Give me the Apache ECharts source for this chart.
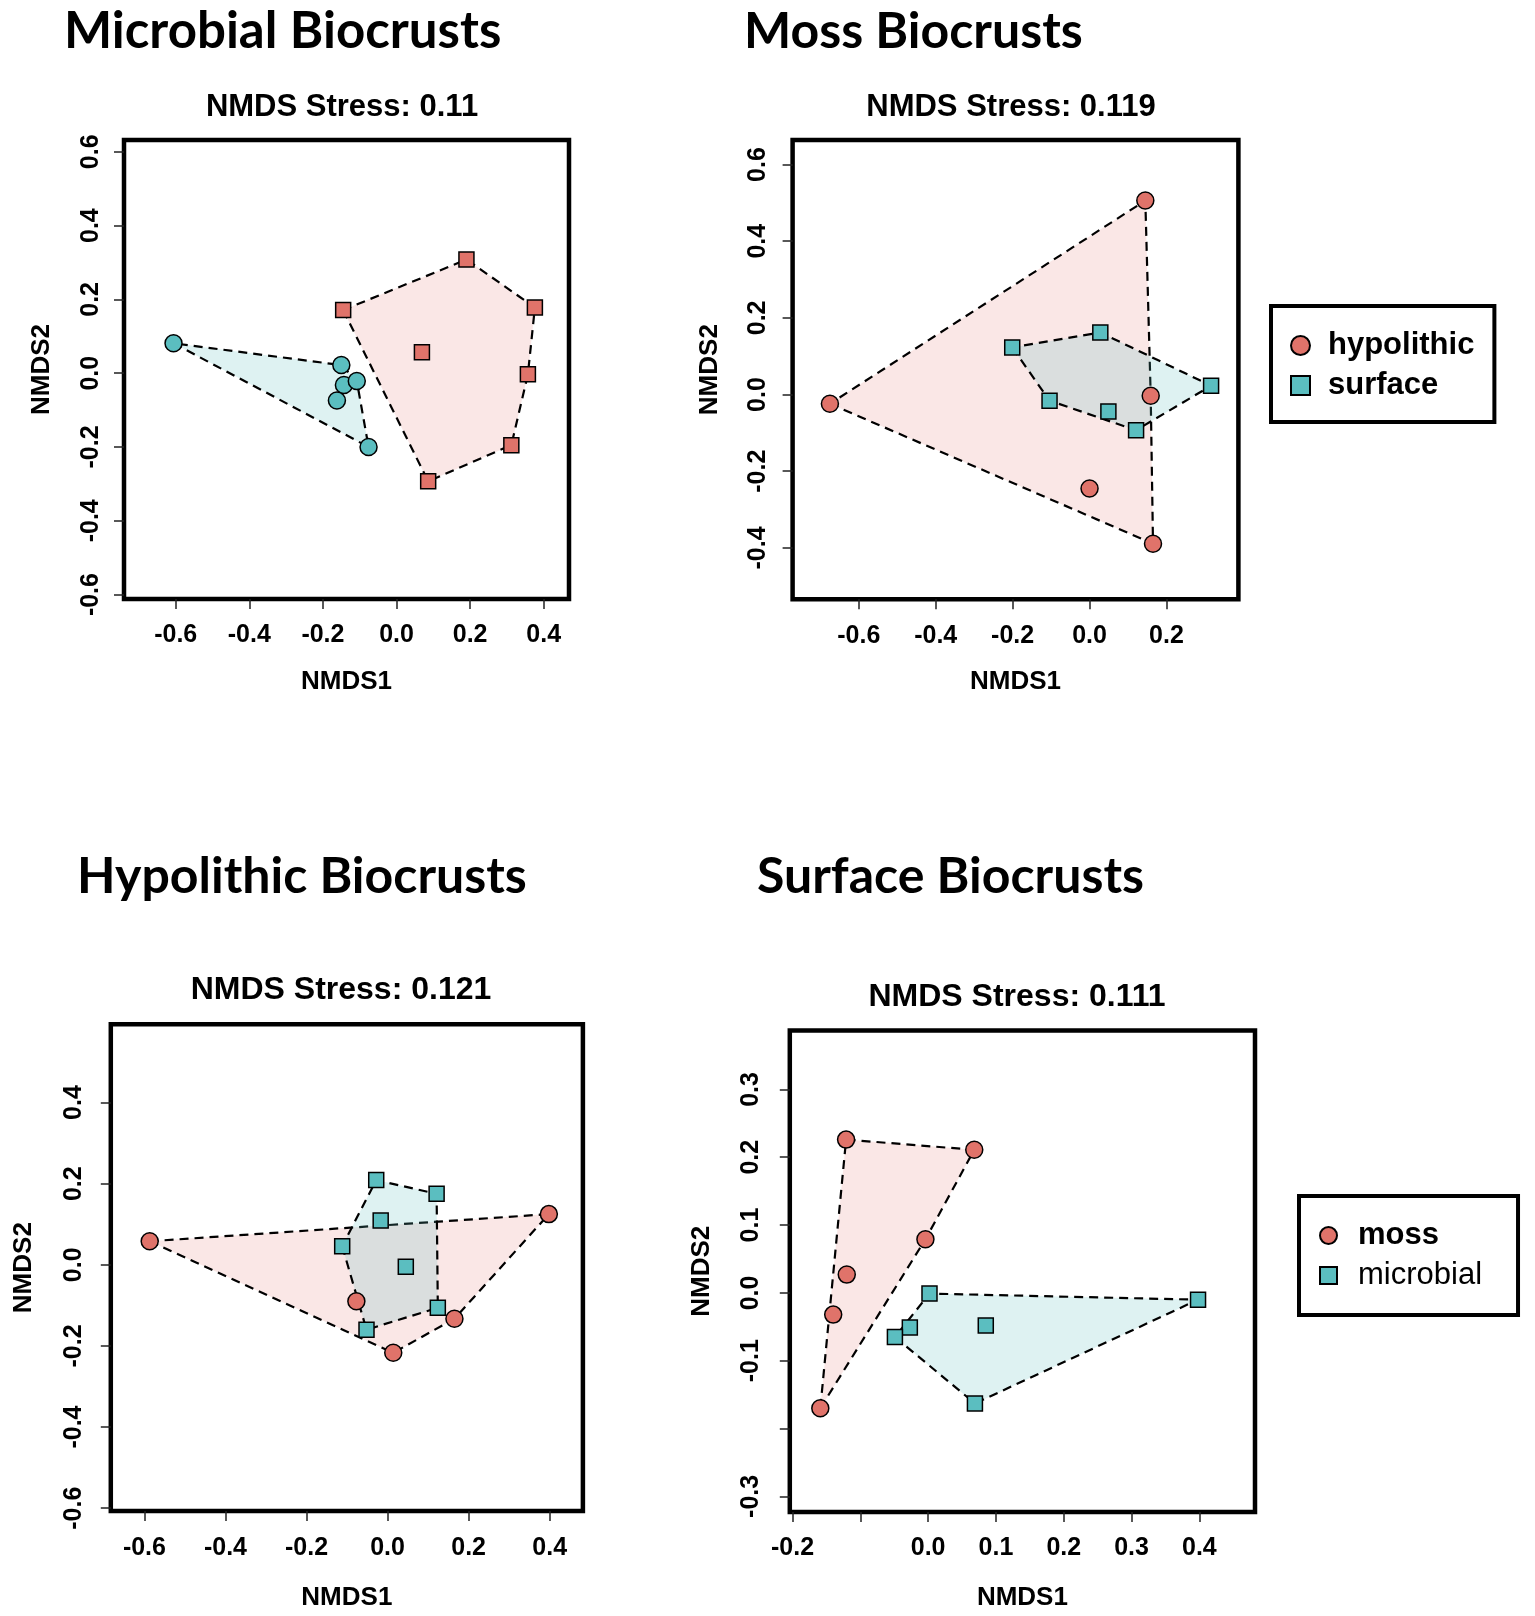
<!DOCTYPE html>
<html>
<head>
<meta charset="utf-8">
<title>NMDS biocrusts</title>
<script src="https://cdn.jsdelivr.net/npm/echarts@6/dist/echarts.min.js"></script>
<style>
  html, body { margin: 0; padding: 0; background: #fff; }
  #chart { width: 1535px; height: 1616px; }
</style>
</head>
<body>
<div id="chart"></div>
<script>
// ---- data (NMDS1, NMDS2) ----
// Microbial Biocrusts
var microbialTeal = [[-0.606, 0.081], [-0.150, 0.022], [-0.143, -0.032], [-0.108, -0.021], [-0.162, -0.074], [-0.076, -0.200]];
var microbialSalmon = [[-0.145, 0.171], [0.190, 0.308], [0.376, 0.178], [0.069, 0.057], [0.357, -0.003], [0.312, -0.195], [0.086, -0.293]];
// Moss Biocrusts
var mossHypolithic = [[0.145, 0.506], [-0.675, -0.024], [0.159, -0.003], [0.000, -0.245], [0.165, -0.389]];
var mossSurface = [[-0.201, 0.123], [0.028, 0.162], [0.316, 0.023], [-0.104, -0.016], [0.049, -0.044], [0.121, -0.093]];
// Hypolithic Biocrusts
var hypolithicMoss = [[-0.587, 0.058], [0.398, 0.125], [-0.077, -0.090], [0.165, -0.133], [0.014, -0.217]];
var hypolithicMicrobial = [[-0.028, 0.209], [0.121, 0.175], [-0.017, 0.109], [-0.112, 0.046], [0.045, -0.005], [0.124, -0.106], [-0.052, -0.160]];
// Surface Biocrusts
var surfaceMoss = [[-0.121, 0.226], [0.068, 0.211], [-0.004, 0.079], [-0.120, 0.027], [-0.140, -0.032], [-0.159, -0.170]];
var surfaceMicrobial = [[0.002, -0.001], [0.398, -0.010], [0.085, -0.048], [-0.027, -0.051], [-0.049, -0.065], [0.069, -0.163]];

// tick values and labels
var ticksX1 = [-0.6, -0.4, -0.2, 0.0, 0.2, 0.4];
var ticksY1 = [-0.6, -0.4, -0.2, 0.0, 0.2, 0.4, 0.6];
var ticksX2 = [-0.6, -0.4, -0.2, 0.0, 0.2];
var ticksY2 = [-0.4, -0.2, 0.0, 0.2, 0.4, 0.6];
var ticksX3 = [-0.6, -0.4, -0.2, 0.0, 0.2, 0.4];
var ticksY3 = [-0.6, -0.4, -0.2, 0.0, 0.2, 0.4];
var ticksX4 = [-0.2, -0.1, 0.0, 0.1, 0.2, 0.3, 0.4];
var labelsX4 = [-0.2, 0.0, 0.1, 0.2, 0.3, 0.4];
var ticksY4 = [-0.3, -0.2, -0.1, 0.0, 0.1, 0.2, 0.3];
var labelsY4 = [-0.3, -0.1, 0.0, 0.1, 0.2, 0.3];

var panelTitles = ["Microbial Biocrusts", "Moss Biocrusts", "Hypolithic Biocrusts", "Surface Biocrusts"];
var stressTitles = ["NMDS Stress: 0.11", "NMDS Stress: 0.119", "NMDS Stress: 0.121", "NMDS Stress: 0.111"];

// colours
var salmon = "#e0736a";
var teal = "#5bbec0";
var salmonFill = "rgba(224,115,106,0.17)";
var tealFill = "rgba(91,190,192,0.2)";
var rFont = "'Liberation Sans', Arial, sans-serif";

// layout of the four panels (plot box in px, axis ranges, label offsets)
var panels = [
  { box: [124, 140, 569, 599], x: [-0.7406, 0.4687], y: [-0.612, 0.632], tx: ticksX1, ty: ticksY1, lx: ticksX1, ly: ticksY1,
    xm: 24, ym: 20, xg: 70, yg: 69, title: [64, 32], titleSize: 51, sub: [342, 107], subSize: 31 },
  { box: [792.6, 140, 1238.4, 599.3], x: [-0.772, 0.387], y: [-0.534, 0.664], tx: ticksX2, ty: ticksY2, lx: ticksX2, ly: ticksY2,
    xm: 24, ym: 22, xg: 70, yg: 70, title: [744, 32], titleSize: 50, sub: [1011, 107], subSize: 31 },
  { box: [110.8, 1024.3, 582.9, 1511], x: [-0.683, 0.482], y: [-0.607, 0.593], tx: ticksX3, ty: ticksY3, lx: ticksX3, ly: ticksY3,
    xm: 25, ym: 24, xg: 74, yg: 74, title: [77, 877], titleSize: 50, sub: [341, 990], subSize: 32 },
  { box: [789.8, 1030.4, 1255, 1512], x: [-0.204, 0.482], y: [-0.323, 0.387], tx: ticksX4, ty: ticksY4, lx: labelsX4, ly: labelsY4,
    xm: 24, ym: 26, xg: 73, yg: 75, title: [757, 877], titleSize: 50, sub: [1017, 997], subSize: 32 }
];

// Andrew's monotone chain convex hull (what ordihull draws)
function convexHull(pts) {
  var p = pts.slice().sort(function (a, b) { return a[0] - b[0] || a[1] - b[1]; });
  function cross(o, a, b) { return (a[0] - o[0]) * (b[1] - o[1]) - (a[1] - o[1]) * (b[0] - o[0]); }
  var lower = [], upper = [];
  p.forEach(function (q) {
    while (lower.length >= 2 && cross(lower[lower.length - 2], lower[lower.length - 1], q) <= 0) lower.pop();
    lower.push(q);
  });
  p.slice().reverse().forEach(function (q) {
    while (upper.length >= 2 && cross(upper[upper.length - 2], upper[upper.length - 1], q) <= 0) upper.pop();
    upper.push(q);
  });
  lower.pop(); upper.pop();
  return lower.concat(upper);
}

function hullSeries(name, idx, pts, fill, z) {
  var hull = convexHull(pts);
  return {
    type: "custom", name: name, xAxisIndex: idx, yAxisIndex: idx, silent: true, z: z,
    data: hull,
    renderItem: function (params, api) {
      if (params.dataIndex !== 0) return null;
      return {
        type: "polygon",
        shape: { points: hull.map(function (h) { return api.coord(h); }) },
        style: { fill: fill, stroke: "#000", lineWidth: 2.2, lineDash: [9, 6] }
      };
    }
  };
}

function pointSeries(name, idx, pts, symbol, color) {
  return {
    type: "scatter", name: name, xAxisIndex: idx, yAxisIndex: idx, z: 5,
    data: pts,
    symbol: symbol,
    symbolSize: symbol === "circle" ? 17 : 15,
    itemStyle: { color: color, borderColor: "#000", borderWidth: 1.5, opacity: 1 },
    emphasis: { scale: false }
  };
}

var fmt = function (v) { return v.toFixed(1); };
var grids = [], xAxes = [], yAxes = [], graphics = [];

panels.forEach(function (p, i) {
  grids.push({
    left: p.box[0], top: p.box[1], width: p.box[2] - p.box[0], height: p.box[3] - p.box[1],
    show: true, borderColor: "#000", borderWidth: 4.5, backgroundColor: "transparent"
  });
  xAxes.push({
    gridIndex: i, type: "value", min: p.x[0], max: p.x[1], position: "bottom",
    axisLine: { show: false, onZero: false },
    axisTick: { show: true, length: 10, customValues: p.tx, lineStyle: { color: "#222", width: 1.5 } },
    axisLabel: { customValues: p.lx, formatter: fmt, margin: p.xm, color: "#000", fontSize: 25, fontWeight: "bold", fontFamily: rFont },
    splitLine: { show: false },
    name: "NMDS1", nameLocation: "middle", nameGap: p.xg,
    nameTextStyle: { color: "#000", fontSize: 26, fontWeight: "bold", fontFamily: rFont }
  });
  yAxes.push({
    gridIndex: i, type: "value", min: p.y[0], max: p.y[1], position: "left",
    axisLine: { show: false, onZero: false },
    axisTick: { show: true, length: 10, customValues: p.ty, lineStyle: { color: "#222", width: 1.5 } },
    axisLabel: { customValues: p.ly, formatter: fmt, rotate: 90, margin: p.ym, color: "#000", fontSize: 25, fontWeight: "bold", fontFamily: rFont },
    splitLine: { show: false },
    name: "NMDS2", nameLocation: "middle", nameGap: p.yg,
    nameTextStyle: { color: "#000", fontSize: 26, fontWeight: "bold", fontFamily: rFont }
  });
  graphics.push({
    type: "text", x: p.title[0], y: p.title[1],
    style: { text: panelTitles[i], fill: "#000", fontSize: p.titleSize, fontWeight: "bold", fontFamily: "Lato, 'Open Sans', sans-serif", align: "left", verticalAlign: "middle" }
  });
  graphics.push({
    type: "text", x: p.sub[0], y: p.sub[1],
    style: { text: stressTitles[i], fill: "#000", fontSize: p.subSize, fontWeight: "bold", fontFamily: rFont, align: "center", verticalAlign: "middle" }
  });
});

var series = [
  hullSeries("microbial teal hull", 0, microbialTeal, tealFill, 1),
  hullSeries("microbial salmon hull", 0, microbialSalmon, salmonFill, 2),
  pointSeries("microbial teal", 0, microbialTeal, "circle", teal),
  pointSeries("microbial salmon", 0, microbialSalmon, "rect", salmon),

  hullSeries("moss hypolithic hull", 1, mossHypolithic, salmonFill, 1),
  hullSeries("moss surface hull", 1, mossSurface, tealFill, 2),
  pointSeries("hypolithic", 1, mossHypolithic, "circle", salmon),
  pointSeries("surface", 1, mossSurface, "rect", teal),

  hullSeries("hypolithic moss hull", 2, hypolithicMoss, salmonFill, 1),
  hullSeries("hypolithic microbial hull", 2, hypolithicMicrobial, tealFill, 2),
  pointSeries("hypolithic moss", 2, hypolithicMoss, "circle", salmon),
  pointSeries("hypolithic microbial", 2, hypolithicMicrobial, "rect", teal),

  hullSeries("surface moss hull", 3, surfaceMoss, salmonFill, 1),
  hullSeries("surface microbial hull", 3, surfaceMicrobial, tealFill, 2),
  pointSeries("moss", 3, surfaceMoss, "circle", salmon),
  pointSeries("microbial", 3, surfaceMicrobial, "rect", teal)
];

var option = {
  backgroundColor: "#fff",
  animation: false,
  grid: grids,
  xAxis: xAxes,
  yAxis: yAxes,
  graphic: graphics,
  legend: [
    {
      orient: "vertical", left: 1271, top: 306,
      padding: [24, 20, 21, 19], itemGap: 9, itemWidth: 19, itemHeight: 19,
      borderColor: "#000", borderWidth: 4, backgroundColor: "#fff",
      selectedMode: false,
      textStyle: { color: "#000", fontSize: 31, fontWeight: "bold", fontFamily: rFont, padding: [0, 0, 0, 13] },
      data: [{ name: "hypolithic", icon: "circle" }, { name: "surface", icon: "rect" }]
    },
    {
      orient: "vertical", left: 1299, top: 1196,
      padding: [24, 36, 24, 20], itemGap: 9, itemWidth: 17, itemHeight: 17,
      borderColor: "#000", borderWidth: 4, backgroundColor: "#fff",
      selectedMode: false,
      textStyle: { color: "#000", fontSize: 31, fontWeight: "bold", fontFamily: rFont, padding: [0, 0, 0, 16] },
      data: [
        { name: "moss", icon: "circle" },
        { name: "microbial", icon: "rect", textStyle: { fontWeight: "normal", fontSize: 31, padding: [0, 0, 0, 16] } }
      ]
    }
  ],
  series: series
};

var chart = echarts.init(document.getElementById("chart"), null, { renderer: "canvas" });
chart.setOption(option);
</script>
</body>
</html>
